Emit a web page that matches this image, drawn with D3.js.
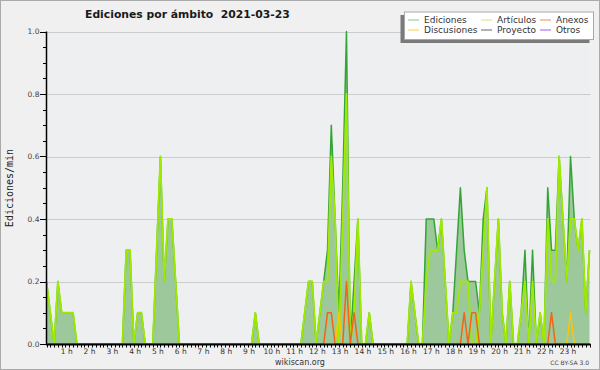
<!DOCTYPE html>
<html>
<head>
<meta charset="utf-8">
<script src="https://cdn.jsdelivr.net/npm/d3@7"></script>
<style>
  html, body { margin: 0; padding: 0; background: #f0f0f0; }
  svg { display: block; font-family: "DejaVu Sans", sans-serif; }
</style>
</head>
<body>
<div id="chart"></div>
<script>
// 10 minute slots, 144 per day, values in edits/min
const hourLabels = ["1 h", "2 h", "3 h", "4 h", "5 h", "6 h", "7 h", "8 h", "9 h", "10 h", "11 h", "12 h",
  "13 h", "14 h", "15 h", "16 h", "17 h", "18 h", "19 h", "20 h", "21 h", "22 h", "23 h"];
const yTicks = [0, 0.2, 0.4, 0.6, 0.8, 1.0];

const ediciones = [
  .2, .1, 0, .2, .1, .1, .1, .1, 0, 0, 0, 0, 0, 0, 0, 0, 0, 0, 0, 0, 0, .3, .3, 0,
  .1, .1, 0, 0, 0, .3, .6, .2, .4, .4, .2, 0, 0, 0, 0, 0, 0, 0, 0, 0, 0, 0, 0, 0,
  0, 0, 0, 0, 0, 0, 0, .1, 0, 0, 0, 0, 0, 0, 0, 0, 0, 0, 0, 0, .1, .2, .2, 0,
  .1, .2, .3, .7, .4, .1, .5, 1, 0, .2, .4, 0, 0, .1, 0, 0, 0, 0, 0, 0, 0, 0, 0, 0,
  .2, .1, 0, 0, .4, .4, .4, .3, .4, .2, 0, .1, .3, .5, .3, .2, .2, .2, .1, .4, .5, 0, .2, .4,
  .1, 0, .2, 0, 0, .1, .3, 0, .3, 0, .1, 0, .5, .3, .3, .6, .4, .2, .6, .4, .3, .4, .1, .3
];
const articulos = [
  .2, .1, 0, .2, .1, .1, .1, .1, 0, 0, 0, 0, 0, 0, 0, 0, 0, 0, 0, 0, 0, .3, .3, 0,
  .1, .1, 0, 0, 0, .3, .6, .2, .4, .4, .2, 0, 0, 0, 0, 0, 0, 0, 0, 0, 0, 0, 0, 0,
  0, 0, 0, 0, 0, 0, 0, .1, 0, 0, 0, 0, 0, 0, 0, 0, 0, 0, 0, 0, .1, .2, .2, 0,
  .1, .2, .2, .6, .4, 0, .4, .8, 0, .1, .4, 0, 0, .1, 0, 0, 0, 0, 0, 0, 0, 0, 0, 0,
  .2, .1, 0, 0, .2, .3, .3, .3, .4, .2, 0, .1, .1, .2, .2, .2, 0, 0, .1, .3, .5, 0, .2, .4,
  .1, 0, .2, 0, 0, .1, .2, 0, .2, 0, .1, 0, .4, .2, .2, .6, .4, .2, .4, .4, .3, .4, .1, .3
];
const anexos = [
  0, 0, 0, 0, 0, 0, 0, 0, 0, 0, 0, 0, 0, 0, 0, 0, 0, 0, 0, 0, 0, 0, 0, 0,
  0, 0, 0, 0, 0, 0, 0, 0, 0, 0, 0, 0, 0, 0, 0, 0, 0, 0, 0, 0, 0, 0, 0, 0,
  0, 0, 0, 0, 0, 0, 0, 0, 0, 0, 0, 0, 0, 0, 0, 0, 0, 0, 0, 0, 0, 0, 0, 0,
  0, 0, .1, .1, 0, 0, 0, .2, 0, .1, 0, 0, 0, 0, 0, 0, 0, 0, 0, 0, 0, 0, 0, 0,
  0, 0, 0, 0, 0, 0, 0, 0, 0, 0, 0, 0, 0, 0, .1, 0, .1, .1, 0, 0, 0, 0, 0, 0,
  0, 0, 0, 0, 0, 0, 0, 0, 0, 0, 0, 0, 0, .1, 0, 0, 0, 0, 0, 0, 0, 0, 0, 0
];
const discusiones = [
  0, 0, 0, 0, 0, 0, 0, 0, 0, 0, 0, 0, 0, 0, 0, 0, 0, 0, 0, 0, 0, 0, 0, 0,
  0, 0, 0, 0, 0, 0, 0, 0, 0, 0, 0, 0, 0, 0, 0, 0, 0, 0, 0, 0, 0, 0, 0, 0,
  0, 0, 0, 0, 0, 0, 0, 0, 0, 0, 0, 0, 0, 0, 0, 0, 0, 0, 0, 0, 0, 0, 0, 0,
  0, 0, 0, 0, 0, .1, 0, 0, 0, 0, 0, 0, 0, 0, 0, 0, 0, 0, 0, 0, 0, 0, 0, 0,
  0, 0, 0, 0, 0, 0, 0, 0, 0, 0, 0, 0, 0, 0, 0, 0, 0, 0, 0, 0, 0, 0, 0, 0,
  0, 0, 0, 0, 0, 0, 0, 0, 0, 0, 0, 0, 0, 0, 0, 0, 0, 0, .1, 0, 0, 0, 0, 0
];
const proyecto = [
  0, 0, 0, 0, 0, 0, 0, 0, 0, 0, 0, 0, 0, 0, 0, 0, 0, 0, 0, 0, 0, 0, 0, 0,
  0, 0, 0, 0, 0, 0, 0, 0, 0, 0, 0, 0, 0, 0, 0, 0, 0, 0, 0, 0, 0, 0, 0, 0,
  0, 0, 0, 0, 0, 0, 0, 0, 0, 0, 0, 0, 0, 0, 0, 0, 0, 0, 0, 0, 0, 0, 0, 0,
  0, 0, 0, 0, 0, 0, 0, 0, 0, 0, 0, 0, 0, 0, 0, 0, 0, 0, 0, 0, 0, 0, 0, 0,
  0, 0, 0, 0, 0, 0, 0, 0, 0, 0, 0, 0, 0, 0, 0, 0, 0, 0, 0, 0, 0, 0, 0, 0,
  0, 0, 0, 0, 0, 0, 0, 0, 0, 0, 0, 0, 0, 0, 0, 0, 0, 0, 0, 0, 0, 0, 0, 0
];
const otros = [
  0, 0, 0, 0, 0, 0, 0, 0, 0, 0, 0, 0, 0, 0, 0, 0, 0, 0, 0, 0, 0, 0, 0, 0,
  0, 0, 0, 0, 0, 0, 0, 0, 0, 0, 0, 0, 0, 0, 0, 0, 0, 0, 0, 0, 0, 0, 0, 0,
  0, 0, 0, 0, 0, 0, 0, 0, 0, 0, 0, 0, 0, 0, 0, 0, 0, 0, 0, 0, 0, 0, 0, 0,
  0, 0, 0, 0, 0, 0, 0, 0, 0, 0, 0, 0, 0, 0, 0, 0, 0, 0, 0, 0, 0, 0, 0, 0,
  0, 0, 0, 0, 0, 0, 0, 0, 0, 0, 0, 0, 0, 0, 0, 0, 0, 0, 0, 0, 0, 0, 0, 0,
  0, 0, 0, 0, 0, 0, 0, 0, 0, 0, 0, 0, 0, 0, 0, 0, 0, 0, 0, 0, 0, 0, 0, 0
];

const series = [
  { name: "Ediciones", values: ediciones, color: "#33a533", legend: "#7fcc7f" },
  { name: "Artículos", values: articulos, color: "#a0ea00", legend: "#cdee66" },
  { name: "Anexos", values: anexos, color: "#f26512", legend: "#f5875a" },
  { name: "Discusiones", values: discusiones, color: "#ffc400", legend: "#f8d048" },
  { name: "Proyecto", values: proyecto, color: "#555555", legend: "#666666" },
  { name: "Otros", values: otros, color: "#9040e0", legend: "#a25af0" }
];
// legend grid order: row 1 then row 2
const legendOrder = ["Ediciones", "Artículos", "Anexos", "Discusiones", "Proyecto", "Otros"];

const W = 600, H = 370;
const plotLeft = 46.5, plotRight = 589.5, plotTop = 31.5, plotBottom = 344;

const svg = d3.select("#chart").append("svg").attr("width", W).attr("height", H);

svg.append("rect")
  .attr("x", 0.5).attr("y", 0.5).attr("width", W - 1).attr("height", H - 1)
  .attr("fill", "#f0f0f0").attr("stroke", "#aaa");

const x = d3.scaleLinear().domain([0, 143]).range([plotLeft, plotRight]);
const y = d3.scaleLinear().domain([0, 1]).range([plotBottom, plotTop]);

// plot background + grid
svg.append("rect")
  .attr("x", plotLeft).attr("y", plotTop).attr("width", plotRight - plotLeft).attr("height", plotBottom - plotTop)
  .attr("fill", "#eeeff1");

svg.append("g")
  .selectAll("line")
  .data(yTicks.filter((d) => d > 0))
  .join("line")
  .attr("x1", plotLeft).attr("x2", plotRight + 1)
  .attr("y1", (d) => Math.round(y(d)) + 0.5).attr("y2", (d) => Math.round(y(d)) + 0.5)
  .attr("stroke", "#cccccc");

// series
const area = d3.area()
  .x((d, i) => x(i))
  .y0(y(0))
  .y1((d) => y(d));
const line = d3.line()
  .x((d, i) => x(i))
  .y((d) => y(d));

svg.append("path")
  .attr("d", area(ediciones))
  .attr("fill", "#9cc89c");

const drawOrder = ["Ediciones", "Artículos", "Proyecto", "Otros", "Discusiones", "Anexos"];
svg.append("g")
  .attr("fill", "none")
  .attr("stroke-linejoin", "round")
  .selectAll("path")
  .data(drawOrder.map((n) => series.find((s) => s.name === n)))
  .join("path")
  .attr("d", (s) => line(s.values))
  .attr("stroke", (s) => s.color)
  .attr("stroke-width", (s) => (s.name === "Artículos" ? 1.8 : 1.5));

// y axis
const yAxis = svg.append("g").attr("font-size", 7.5).attr("fill", "#444");
yAxis.append("line")
  .attr("x1", plotLeft).attr("x2", plotLeft).attr("y1", plotTop).attr("y2", plotBottom + 1)
  .attr("stroke", "#000").attr("stroke-width", 1.5);
yAxis.selectAll("line.minor")
  .data(d3.range(0, 21))
  .join("line")
  .classed("minor", true)
  .attr("x1", (d) => (d % 4 === 0 ? plotLeft - 6.5 : plotLeft - 3.5)).attr("x2", plotLeft)
  .attr("y1", (d) => Math.round(y(d * 0.05)) + 0.5)
  .attr("y2", (d) => Math.round(y(d * 0.05)) + 0.5)
  .attr("stroke", "#000");
yAxis.selectAll("text")
  .data(yTicks)
  .join("text")
  .attr("x", plotLeft - 7)
  .attr("y", (d) => y(d) + 2.5)
  .attr("text-anchor", "end")
  .text((d) => d.toFixed(1));

svg.append("text")
  .attr("transform", `translate(13,188) rotate(-90)`)
  .attr("text-anchor", "middle")
  .attr("font-family", "DejaVu Sans Mono")
  .attr("font-size", 10)
  .attr("fill", "#222")
  .text("Ediciones/min");

// x axis
const xAxis = svg.append("g");
xAxis.selectAll("line.tick")
  .data(d3.range(0, 144))
  .join("line")
  .classed("tick", true)
  .attr("x1", (d) => Math.round(x(d)) + 0.5).attr("x2", (d) => Math.round(x(d)) + 0.5)
  .attr("y1", plotBottom).attr("y2", plotBottom + 3.5)
  .attr("stroke", "#000");
xAxis.append("line")
  .attr("x1", plotLeft - 0.5).attr("x2", plotRight + 1).attr("y1", plotBottom + 0.5).attr("y2", plotBottom + 0.5)
  .attr("stroke", "#000").attr("stroke-width", 2);
xAxis.selectAll("text")
  .data(hourLabels)
  .join("text")
  .attr("x", (d, i) => x((i + 1) * 6) - 2.5)
  .attr("y", 353.5)
  .attr("text-anchor", "middle")
  .attr("font-size", 7.5)
  .attr("fill", "#333")
  .text((d) => d);

svg.append("text")
  .attr("x", 300).attr("y", 364.5)
  .attr("text-anchor", "middle")
  .attr("font-size", 8)
  .attr("fill", "#333")
  .text("wikiscan.org");

svg.append("text")
  .attr("x", 589).attr("y", 365)
  .attr("text-anchor", "end")
  .attr("font-size", 6)
  .attr("fill", "#444")
  .text("CC BY-SA 3.0");

// title
svg.append("text")
  .attr("x", 85).attr("y", 18)
  .attr("font-size", 10.8)
  .attr("font-weight", "bold")
  .attr("fill", "#1a1a1a")
  .style("white-space", "pre")
  .text("Ediciones por ámbito  2021-03-23");

// legend
const lg = svg.append("g").attr("transform", "translate(404,11.5)");
lg.append("rect")
  .attr("x", -3.5).attr("y", 3.5).attr("width", 189).attr("height", 28)
  .attr("fill", "#7a7a7a");
lg.append("rect")
  .attr("x", 0.5).attr("y", 0.5).attr("width", 189).attr("height", 27.5)
  .attr("fill", "#fff").attr("stroke", "#a8a8a8");
const colX = [4, 77, 136];
const rowY = [8, 18];
const items = lg.selectAll("g.item")
  .data(legendOrder.map((n) => series.find((s) => s.name === n)))
  .join("g")
  .classed("item", true)
  .attr("transform", (d, i) => `translate(${colX[i % 3]},${rowY[Math.floor(i / 3)]})`);
items.append("line")
  .attr("x1", 0).attr("x2", 11).attr("y1", 0.5).attr("y2", 0.5)
  .attr("stroke", (d) => d.legend);
items.append("text")
  .attr("x", 16).attr("y", 3.5)
  .attr("font-size", 9)
  .attr("fill", "#333")
  .text((d) => d.name);
</script>
</body>
</html>
